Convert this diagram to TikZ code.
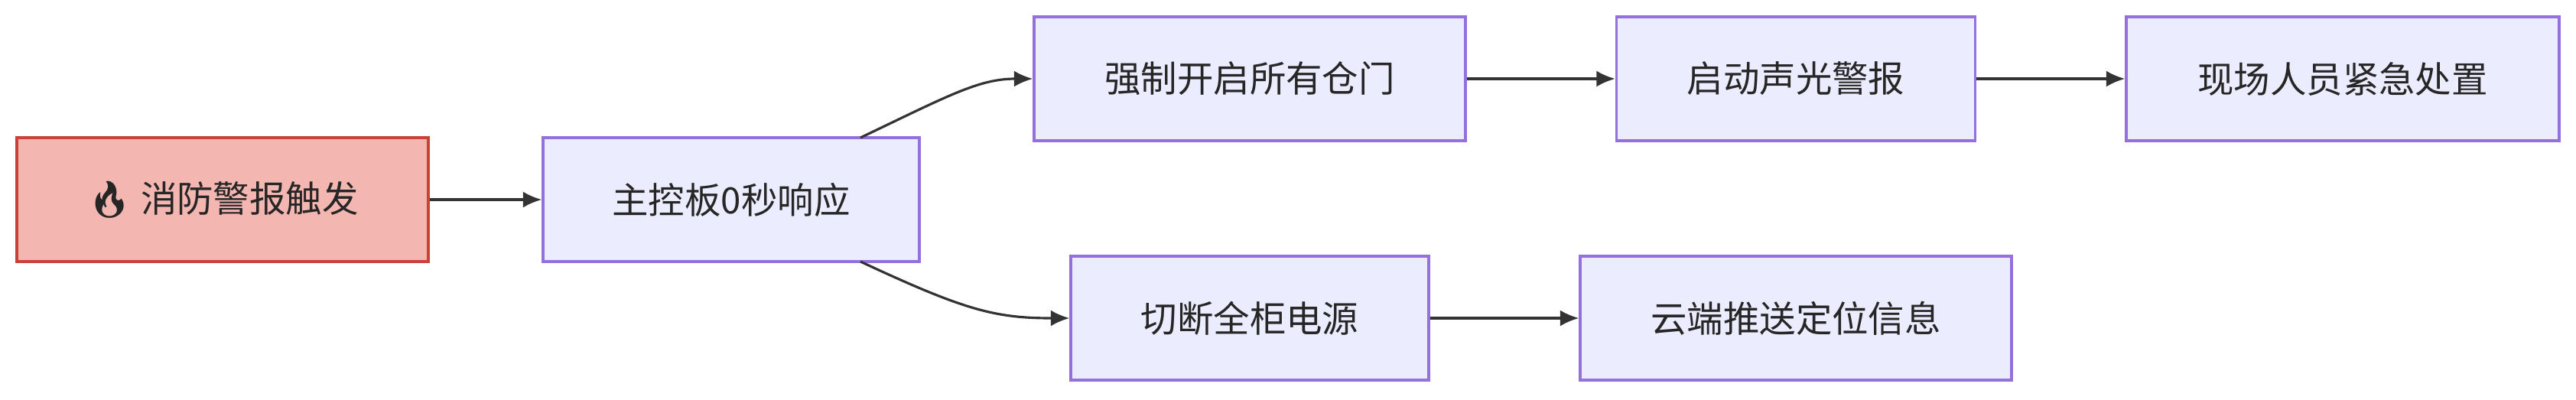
\documentclass[tikz,border=0pt]{standalone}
\usepackage{fontspec}
\setmainfont{Noto Sans CJK SC}
\newfontfamily\emoji{Noto Emoji}
\usetikzlibrary{positioning,arrows.meta}
\definecolor{boxfill}{HTML}{ECECFF}
\definecolor{boxline}{HTML}{9370DB}
\definecolor{alarmfill}{HTML}{F4B6B0}
\definecolor{alarmline}{HTML}{C9413A}
\definecolor{linkcol}{HTML}{333333}
\tikzset{
  stepbox/.style={draw=boxline, fill=boxfill, line width=0.9pt, minimum height=1.62cm,
    inner sep=0pt, font=\fontsize{13.5pt}{16pt}\selectfont, text=black!85},
  alarmbox/.style={stepbox, draw=alarmline, fill=alarmfill},
  link/.style={draw=linkcol, line width=0.9pt, -{Latex[length=7pt,width=6pt]}}
}
\begin{document}
\begin{tikzpicture}
  \useasboundingbox (0,0) rectangle (33.68,-5.22);
  % nodes
  \node[alarmbox, minimum width=5.38cm] (fire) at (2.91,-2.61) {{\emoji 🔥} 消防警报触发};
  \node[stepbox, minimum width=4.92cm] (main) at (9.56,-2.61) {主控板0秒响应};
  \node[stepbox, minimum width=5.64cm] (open) at (16.34,-1.03) {强制开启所有仓门};
  \node[stepbox, minimum width=4.69cm] (alarm) at (23.48,-1.03) {启动声光警报};
  \node[stepbox, minimum width=5.66cm] (staff) at (30.63,-1.03) {现场人员紧急处置};
  \node[stepbox, minimum width=4.68cm] (power) at (16.34,-4.16) {切断全柜电源};
  \node[stepbox, minimum width=5.64cm] (cloud) at (23.48,-4.16) {云端推送定位信息};
  % links
  \draw[link] (fire) -- (main);
  \draw[link] (11.25,-1.80) .. controls (12.4,-1.25) and (12.8,-1.03) .. (open.west);
  \draw[link] (11.25,-3.42) .. controls (12.6,-4.05) and (13.0,-4.16) .. (power.west);
  \draw[link] (open) -- (alarm);
  \draw[link] (alarm) -- (staff);
  \draw[link] (power) -- (cloud);
\end{tikzpicture}
\end{document}
